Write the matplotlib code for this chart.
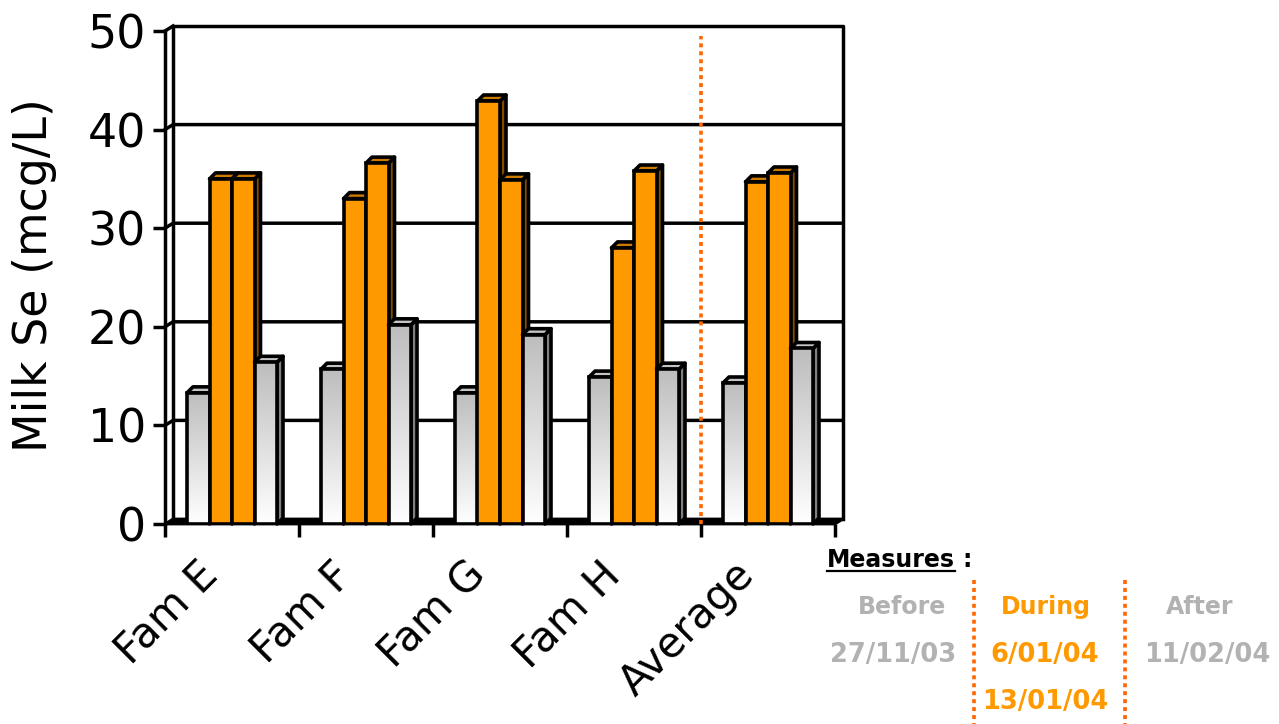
import matplotlib
matplotlib.use("Agg")
import matplotlib.pyplot as plt
import numpy as np
from matplotlib.patches import Polygon
from matplotlib.lines import Line2D
from matplotlib.transforms import offset_copy
from matplotlib.colors import LinearSegmentedColormap

# ---- data -------------------------------------------------------------
categories = ["Fam E", "Fam F", "Fam G", "Fam H", "Average"]
before = [13.3, 15.7, 13.3, 14.9, 14.3]
during_1 = [35.0, 33.0, 42.9, 28.0, 34.7]
during_2 = [35.0, 36.6, 34.9, 35.8, 35.6]
after = [16.4, 20.2, 19.2, 15.7, 17.8]
y_ticks = [0, 10, 20, 30, 40, 50]
y_label = "Milk Se (mcg/L)"

legend_title = "Measures"
legend_heads = ["Before", "During", "After"]
legend_dates = [["27/11/03"], ["6/01/04", "13/01/04"], ["11/02/04"]]

# ---- style ------------------------------------------------------------
ORANGE = "#FF9900"
ORANGE_TOP = "#CC7A00"
ORANGE_SIDE = "#7F4C00"
GRAY_TOP = "#C4C4C4"
GRAY_SIDE = "#808080"
GRAY_TEXT = "#B2B2B2"
DOT_COLOR = "#FF6600"
EDGE_LW = 2.6
WALL_LW = 2.5

W, H, DPI = 1279, 724, 100
fig = plt.figure(figsize=(W / DPI, H / DPI), dpi=DPI)
fig.patch.set_facecolor("white")

# front plane of the plot, in pixels
L, R, B, T = 165, 835, 524, 31
ax = fig.add_axes([L / W, 1 - B / H, (R - L) / W, (B - T) / H])
ncat = len(categories)
ymax = y_ticks[-1]
sx = (R - L) / ncat          # px per category
sy = (B - T) / ymax          # px per value unit

# depth offsets (px -> data units)
wx, wy = 8 / sx, 5 / sy      # back wall
bx, by = 6 / sx, 6 / sy      # bar depth

# ---- walls, floor, gridlines -------------------------------------------
wall_kw = dict(color="black", lw=WALL_LW, solid_capstyle="projecting",
               solid_joinstyle="round", clip_on=False, zorder=1)
ax.plot([wx, wx, ncat + wx, ncat + wx], [wy, ymax + wy, ymax + wy, wy], **wall_kw)
ax.plot([0, wx], [ymax, ymax + wy], **wall_kw)
for v in y_ticks[1:-1]:
    ax.plot([0, wx, ncat + wx], [v, v + wy, v + wy], **wall_kw)
floor = Polygon([(0, 0), (ncat, 0), (ncat + wx, wy), (wx, wy)], closed=True,
                facecolor="black", edgecolor="black", lw=2.0, joinstyle="round",
                clip_on=False, zorder=1.5)
ax.add_patch(floor)

# separator between farms and the average
ax.plot([ncat - 1, ncat - 1], [0, 49.5], color=DOT_COLOR, lw=2.6,
        ls=(0, (1.1, 1.1)), zorder=2, clip_on=False)

# ---- bars ---------------------------------------------------------------
series = [before, during_1, during_2, after]
kinds = ["gray", "orange", "orange", "gray"]
group_w = 90 / sx
bar_w = group_w / len(series)
gray_cmap = LinearSegmentedColormap.from_list("g", ["#FFFFFF", "#BDBDBD"])
grad = np.linspace(1, 0, 256).reshape(-1, 1)

k = 0
for i in range(ncat):
    for j, (vals, kind) in enumerate(zip(series, kinds)):
        h = vals[i]
        x0 = i + 0.5 - group_w / 2 + j * bar_w
        x1 = x0 + bar_w
        z = 3 + k * 0.01
        k += 1
        side_c = GRAY_SIDE if kind == "gray" else ORANGE_SIDE
        top_c = GRAY_TOP if kind == "gray" else ORANGE_TOP
        side = Polygon([(x1, 0), (x1 + bx, by), (x1 + bx, h + by), (x1, h)], closed=True,
                       facecolor=side_c, edgecolor="black", lw=EDGE_LW, joinstyle="round",
                       clip_on=False, zorder=z)
        top = Polygon([(x0, h), (x1, h), (x1 + bx, h + by), (x0 + bx, h + by)], closed=True,
                      facecolor=top_c, edgecolor="black", lw=EDGE_LW, joinstyle="round",
                      clip_on=False, zorder=z)
        ax.add_patch(side)
        ax.add_patch(top)
        if kind == "gray":
            fill = ax.bar(x0, h, width=bar_w, align="edge", color="white",
                          lw=0, zorder=z + 0.002)[0]
            im = ax.imshow(grad, extent=[x0, x1, 0, h], origin="upper", cmap=gray_cmap,
                           vmin=0, vmax=1, aspect="auto", zorder=z + 0.003,
                           interpolation="bilinear")
            im.set_clip_path(fill)
        else:
            ax.bar(x0, h, width=bar_w, align="edge", color=ORANGE, lw=0, zorder=z + 0.002)
        ax.bar(x0, h, width=bar_w, align="edge", facecolor="none", edgecolor="black",
               lw=EDGE_LW, zorder=z + 0.004, joinstyle="miter")

ax.set_xlim(0, ncat)
ax.set_ylim(0, ymax)
ax.set_facecolor("none")

# ---- axes, ticks, labels -----------------------------------------------
for s in ["top", "right", "bottom"]:
    ax.spines[s].set_visible(False)
ax.spines["left"].set_linewidth(WALL_LW)
ax.spines["left"].set_zorder(2)
ax.set_yticks(y_ticks)
ax.set_yticklabels([str(v) for v in y_ticks])
ax.tick_params(axis="y", direction="out", length=8.6, width=WALL_LW, labelsize=33, pad=5)
ax.set_xticks(range(ncat + 1))
ax.set_xticklabels([])
ax.tick_params(axis="x", direction="out", length=9.4, width=WALL_LW)

lab_tr = offset_copy(ax.transData, fig=fig, x=-12, y=-53, units="dots")
for i, name in enumerate(categories):
    ax.text(i + 0.5, 0, name, transform=lab_tr, rotation=45, rotation_mode="anchor",
            ha="right", va="baseline", fontsize=30)

fig.text(35 / W, 1 - 275 / H, y_label, rotation=90, ha="center", va="center", fontsize=33)

# ---- measures key -------------------------------------------------------
def fx(p):
    return p / W


def fy(p):
    return 1 - p / H


fig.text(fx(827), fy(567), legend_title, fontsize=17, weight="bold", ha="left", va="baseline")
fig.text(fx(962), fy(567), ":", fontsize=17, weight="bold", ha="left", va="baseline")
fig.add_artist(Line2D([fx(827), fx(955)], [fy(571), fy(571)], color="black", lw=1.6))

head_x = [902, 1046, 1200]
date_x = [893, 1045, 1207]
colors = [GRAY_TEXT, ORANGE, GRAY_TEXT]
for hx, dx, head, dates, c in zip(head_x, date_x, legend_heads, legend_dates, colors):
    fig.text(fx(hx), fy(607), head, fontsize=17, weight="bold", color=c, ha="center", va="center")
    for r, d in enumerate(dates):
        fig.text(fx(dx), fy(655 + 47 * r), d, fontsize=18.5, weight="bold", color=c,
                 ha="center", va="center")

for lx in [974, 1125]:
    fig.add_artist(Line2D([fx(lx), fx(lx)], [fy(580), fy(724)], color=DOT_COLOR,
                          lw=2.6, ls=(0, (1.1, 1.1))))

fig.savefig("out.png", dpi=DPI)
